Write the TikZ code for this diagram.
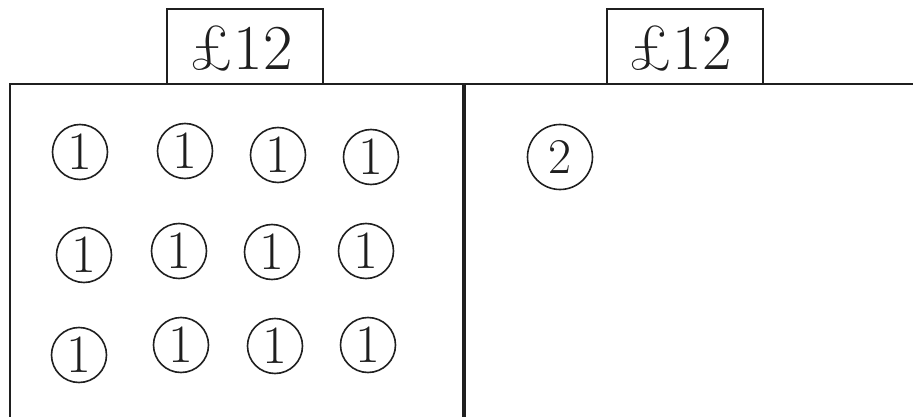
\documentclass[tikz,border=0pt]{standalone}
\usepackage{fontspec}
\begin{document}
\begin{tikzpicture}[x=1pt,y=-1pt,
  line/.style={draw=black!88,line width=2pt},
  tab/.style={draw=black!88,line width=2pt,minimum width=156pt,minimum height=75pt,inner sep=0pt},
  tablabel/.style={inner sep=0pt,anchor=base,font=\fontsize{64}{64}\selectfont,text=black!88},
  coin/.style={circle,draw=black!88,line width=1.6pt,minimum size=55pt,inner sep=0pt,font=\fontsize{54}{54}\selectfont,text=black!88},
  bigcoin/.style={coin,minimum size=65pt,font=\fontsize{50}{50}\selectfont}]
\useasboundingbox (0,0) rectangle (913,417);
\node[tab] (tabL) at (245,46.5) {};
\node[tab] (tabR) at (684.5,46.5) {};
\node[tablabel] (tL) at (241,70) {£12};
\node[tablabel] (tR) at (680,70) {£12};
\coordinate (tl) at (9,84);
\coordinate (tr) at (913,84);
\coordinate (lb) at (10,417);
\coordinate (lt) at (10,84);
\coordinate (mt) at (464,84);
\coordinate (mb) at (464,417);
\draw[line] (tl) -- (tr);
\draw[line] (lt) -- (lb);
\draw[line,line width=3.8pt] (mt) -- (mb);
\node[coin] (c11) at (80,152) {1};
\node[coin] (c12) at (185,151) {1};
\node[coin] (c13) at (278,155) {1};
\node[coin] (c14) at (371,157) {1};
\node[coin] (c21) at (84,255) {1};
\node[coin] (c22) at (179,251) {1};
\node[coin] (c23) at (272,252) {1};
\node[coin] (c24) at (366,251) {1};
\node[coin] (c31) at (79,355) {1};
\node[coin] (c32) at (181,345) {1};
\node[coin] (c33) at (275,346) {1};
\node[coin] (c34) at (368,345) {1};
\node[bigcoin] (c2) at (560,157) {2};
\end{tikzpicture}
\end{document}
